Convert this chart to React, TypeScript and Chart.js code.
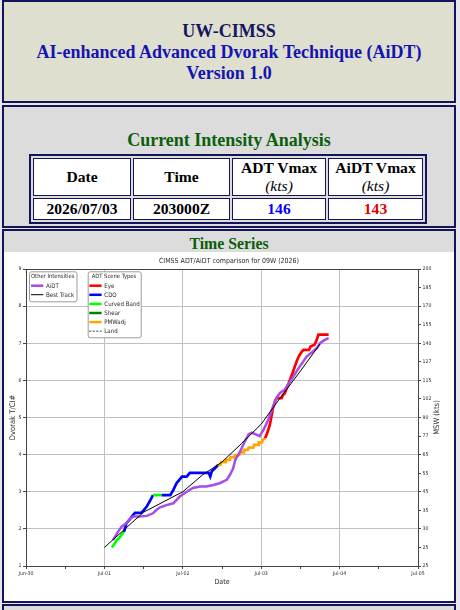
import React, { useEffect, useRef } from "react";
import { Chart, registerables } from "chart.js";

Chart.register(...registerables);

// ---------- data ----------
const chartTitle = "CIMSS ADT/AiDT comparison for 09W (2026)";
const xTickLabels = ["Jun-30", "Jul-01", "Jul-02", "Jul-03", "Jul-04", "Jul-05"];
const mswTickLabels = ["25", "25", "30", "35", "45", "55", "65", "77", "90", "102", "115", "127", "140", "155", "170", "185", "200"];

const otherLegendLabels = ["AiDT", "Best Track"];
const sceneLegendLabels = ["Eye", "CDO", "Curved Band", "Shear", "PMWadj", "Land"];

// days since Jun-30 00Z
const bestTrackDays = [1.0, 1.5, 2.0, 2.25, 2.5, 2.75, 3.0, 3.25, 3.5, 3.75];
const bestTrackCI = [1.5, 2.45, 3.0, 3.45, 3.8, 4.3, 4.82, 5.55, 6.25, 6.98];

const aidtDays = [1.11, 1.16, 1.22, 1.28, 1.33, 1.37, 1.45, 1.54, 1.62, 1.67, 1.71, 1.79, 1.88, 1.96, 2.05, 2.13, 2.22, 2.3, 2.39, 2.47, 2.56, 2.6, 2.64, 2.67, 2.73, 2.76, 2.79, 2.84, 2.88, 2.94, 2.98, 3.03, 3.09, 3.15, 3.2, 3.24, 3.3, 3.33, 3.41, 3.49, 3.58, 3.66, 3.71, 3.75, 3.81, 3.86];
const aidtCI = [1.7, 1.88, 2.06, 2.15, 2.28, 2.33, 2.33, 2.35, 2.42, 2.52, 2.58, 2.64, 2.69, 2.87, 3.0, 3.1, 3.14, 3.14, 3.18, 3.23, 3.32, 3.45, 3.62, 3.86, 4.08, 4.22, 4.35, 4.55, 4.59, 4.54, 4.5, 4.67, 4.94, 5.29, 5.55, 5.66, 5.75, 5.85, 6.1, 6.37, 6.64, 6.78, 6.87, 7.0, 7.09, 7.14];

const adtDays = [
  1.095, 1.13, 1.16, 1.19, 1.22, 1.25,
  1.28, 1.31, 1.35, 1.39, 1.47, 1.5, 1.54, 1.58, 1.62,
  1.73,
  1.84, 1.88, 1.92, 1.99, 2.05, 2.09, 2.33, 2.35, 2.37, 2.41, 2.45,
  2.48, 2.49, 2.54, 2.55, 2.6, 2.61, 2.66, 2.67, 2.72, 2.73, 2.77, 2.78, 2.83, 2.84, 2.9, 2.91, 2.96, 2.97, 3.01, 3.02, 3.05,
  3.08, 3.11, 3.15, 3.18, 3.2, 3.26, 3.28, 3.3, 3.35, 3.4, 3.45, 3.48, 3.52, 3.54, 3.61, 3.63, 3.68, 3.7, 3.73, 3.86,
];
const adtCI = [
  1.5, 1.6, 1.7, 1.75, 1.85, 1.92,
  2.15, 2.22, 2.33, 2.43, 2.43, 2.5, 2.6, 2.75, 2.91,
  2.91,
  2.91, 3.05, 3.23, 3.41, 3.41, 3.51, 3.51, 3.41, 3.55, 3.63, 3.72,
  3.72, 3.8, 3.8, 3.86, 3.86, 3.93, 3.93, 3.99, 3.99, 4.06, 4.06, 4.13, 4.13, 4.19, 4.19, 4.26, 4.26, 4.33, 4.33, 4.4, 4.44,
  4.6, 4.8, 5.25, 5.47, 5.52, 5.52, 5.61, 5.65, 5.92, 6.2, 6.5, 6.65, 6.78, 6.82, 6.82, 6.91, 6.96, 7.05, 7.23, 7.23,
];
const adtScene = [
  "Curved Band", "Curved Band", "Curved Band", "Curved Band", "Curved Band", "Curved Band",
  "CDO", "CDO", "CDO", "CDO", "CDO", "CDO", "CDO", "CDO", "CDO",
  "Curved Band",
  "CDO", "CDO", "CDO", "CDO", "CDO", "CDO", "CDO", "CDO", "CDO", "CDO", "CDO",
  "PMWadj", "PMWadj", "PMWadj", "PMWadj", "PMWadj", "PMWadj", "PMWadj", "PMWadj", "PMWadj", "PMWadj", "PMWadj", "PMWadj", "PMWadj", "PMWadj", "PMWadj", "PMWadj", "PMWadj", "PMWadj", "PMWadj", "PMWadj", "PMWadj",
  "Eye", "Eye", "Eye", "Eye", "Eye", "Eye", "Eye", "Eye", "Eye", "Eye", "Eye", "Eye", "Eye", "Eye", "Eye", "Eye", "Eye", "Eye", "Eye", "Eye",
];

// ---------- styles ----------
const sceneColors: Record<string, string> = {
  Eye: "#ff0000",
  CDO: "#0000ff",
  "Curved Band": "#00ff00",
  Shear: "#008000",
  PMWadj: "#ffa500",
  Land: "#000000",
};
const aidtColor = "#a64ce8";
const bestColor = "#000000";
const gridGrey = "#c0c0c0";
const axisGrey = "#444444";
const textGrey = "#2a2a2a";
const chartFont = '"DejaVu Sans Condensed", "DejaVu Sans", sans-serif';
const serif = '"Liberation Serif", "Times New Roman", serif';
const navy = "#14145a";

const decorations = {
  id: "decorations",
  afterDraw(chart: any) {
    const { ctx, chartArea } = chart;
    const { left, top, right, bottom } = chartArea;
    ctx.save();
    // top spine
    ctx.strokeStyle = axisGrey;
    ctx.lineWidth = 1;
    ctx.beginPath();
    ctx.moveTo(left, Math.round(top) + 0.5);
    ctx.lineTo(right, Math.round(top) + 0.5);
    ctx.stroke();

    // right axis title, read bottom-to-top
    ctx.fillStyle = textGrey;
    ctx.font = `7.6px ${chartFont}`;
    ctx.textAlign = "center";
    ctx.textBaseline = "middle";
    ctx.translate(right + 18.7, (top + bottom) / 2);
    ctx.rotate(-Math.PI / 2);
    ctx.fillText("MSW (kts)", 0, 0);
    ctx.restore();

    // legends
    const drawBox = (x: number, y: number, w: number, h: number) => {
      ctx.save();
      ctx.fillStyle = "rgba(255,255,255,0.85)";
      ctx.strokeStyle = "#9a9a9a";
      ctx.lineWidth = 1;
      ctx.beginPath();
      if ((ctx as any).roundRect) (ctx as any).roundRect(x + 0.5, y + 0.5, w, h, 2);
      else ctx.rect(x + 0.5, y + 0.5, w, h);
      ctx.fill();
      ctx.stroke();
      ctx.restore();
    };
    const drawEntry = (x: number, y: number, color: string, width: number, dash: number[], label: string) => {
      ctx.save();
      ctx.strokeStyle = color;
      ctx.lineWidth = width;
      ctx.setLineDash(dash);
      ctx.beginPath();
      ctx.moveTo(x, y);
      ctx.lineTo(x + 12.3, y);
      ctx.stroke();
      ctx.setLineDash([]);
      ctx.fillStyle = textGrey;
      ctx.font = `6.1px ${chartFont}`;
      ctx.textAlign = "left";
      ctx.textBaseline = "middle";
      ctx.fillText(label, x + 15, y + 0.3);
      ctx.restore();
    };

    // legend 1: other intensities
    const l1x = left + 3;
    const l1y = top + 2.3;
    drawBox(l1x, l1y, 47.5, 30);
    ctx.save();
    ctx.fillStyle = textGrey;
    ctx.font = `5.8px ${chartFont}`;
    ctx.textBaseline = "middle";
    ctx.textAlign = "left";
    ctx.fillText("Other Intensities", l1x + 2, l1y + 5.2);
    ctx.restore();
    const otherStyles = [
      { c: aidtColor, w: 2.5, d: [] as number[] },
      { c: bestColor, w: 1, d: [] as number[] },
    ];
    otherLegendLabels.forEach((lab, i) => {
      drawEntry(l1x + 2, l1y + 14.4 + i * 9, otherStyles[i].c, otherStyles[i].w, otherStyles[i].d, lab);
    });

    // legend 2: ADT scene types
    const l2x = left + 61.7;
    const l2y = top + 2.3;
    drawBox(l2x, l2y, 53, 66);
    ctx.save();
    ctx.fillStyle = textGrey;
    ctx.font = `5.8px ${chartFont}`;
    ctx.textBaseline = "middle";
    ctx.textAlign = "left";
    ctx.fillText("ADT Scene Types", l2x + 4, l2y + 5);
    ctx.restore();
    sceneLegendLabels.forEach((lab, i) => {
      const isLand = lab === "Land";
      drawEntry(l2x + 1.6, l2y + 14.4 + i * 9.1, sceneColors[lab], isLand ? 0.8 : 2.5, isLand ? [2, 1.5] : [], lab);
    });
  },
};

export default function App() {
  const canvasRef = useRef<HTMLCanvasElement>(null);

  useEffect(() => {
    const canvas = canvasRef.current;
    if (!canvas) return;
    const bestData = bestTrackDays.map((d, i) => ({ x: d, y: bestTrackCI[i] }));
    const aidtData = aidtDays.map((d, i) => ({ x: d, y: aidtCI[i] }));
    const adtData = adtDays.map((d, i) => ({ x: d, y: adtCI[i] }));

    const chart = new Chart(canvas, {
      type: "line",
      data: {
        datasets: [
          {
            label: "Best Track",
            data: bestData,
            borderColor: bestColor,
            borderWidth: 1,
            pointRadius: 0,
            tension: 0,
          },
          {
            label: "AiDT",
            data: aidtData,
            borderColor: aidtColor,
            borderWidth: 2.5,
            pointRadius: 0,
            tension: 0,
          },
          {
            label: "ADT",
            data: adtData,
            borderColor: sceneColors.CDO,
            borderWidth: 2.7,
            pointRadius: 0,
            tension: 0,
            borderJoinStyle: "miter",
            segment: {
              borderColor: (c: any) => sceneColors[adtScene[c.p1DataIndex]],
            },
          } as any,
        ],
      },
      options: {
        responsive: false,
        animation: false,
        layout: { padding: 0 },
        plugins: {
          legend: { display: false },
          tooltip: { enabled: false },
          title: {
            display: true,
            text: chartTitle,
            color: textGrey,
            font: { family: chartFont, size: 7, weight: "normal" },
            padding: { top: 4.6, bottom: 4 },
          },
        },
        scales: {
          x: {
            type: "linear",
            min: 0,
            max: 5,
            ticks: {
              stepSize: 0.5,
              autoSkip: false,
              maxRotation: 0,
              padding: 1.5,
              color: textGrey,
              font: { family: chartFont, size: 5.2 },
              callback: (v: any) => (Number.isInteger(v) ? xTickLabels[v] : ""),
            },
            grid: {
              color: (c: any) => (c.tick && Number.isInteger(c.tick.value) ? gridGrey : "rgba(0,0,0,0)"),
              tickColor: axisGrey,
              tickLength: 3,
              lineWidth: 1,
            },
            border: { display: true, color: axisGrey },
            title: {
              display: true,
              text: "Date",
              color: textGrey,
              font: { family: chartFont, size: 7 },
              padding: { top: 0, bottom: 14.8 },
            },
            afterFit: (s: any) => {
              s.height = 35;
            },
          },
          y: {
            type: "linear",
            position: "left",
            min: 1,
            max: 9,
            ticks: {
              stepSize: 1,
              padding: 1.5,
              color: textGrey,
              font: { family: chartFont, size: 5.2 },
            },
            grid: {
              color: gridGrey,
              tickColor: axisGrey,
              tickLength: 3,
              lineWidth: 1,
            },
            border: { display: true, color: axisGrey },
            title: {
              display: true,
              text: "Dvorak T/CI#",
              color: textGrey,
              font: { family: chartFont, size: 7.6 },
              padding: { top: 4.7, bottom: 0 },
            },
            afterFit: (s: any) => {
              s.width = 22;
            },
          },
          y2: {
            type: "linear",
            position: "right",
            min: 1,
            max: 9,
            ticks: {
              stepSize: 0.5,
              padding: 1.5,
              color: textGrey,
              font: { family: chartFont, size: 5.2 },
              callback: (v: any) => mswTickLabels[Math.round((Number(v) - 1) * 2)],
            },
            grid: {
              drawOnChartArea: false,
              tickColor: axisGrey,
              tickLength: 3,
            },
            border: { display: true, color: axisGrey },
            afterFit: (s: any) => {
              s.width = 36;
            },
          },
        },
      } as any,
      plugins: [decorations],
    });
    return () => chart.destroy();
  }, []);

  const boxBase: React.CSSProperties = {
    position: "absolute",
    left: 2,
    width: 450,
    border: `2px solid ${navy}`,
    boxSizing: "content-box",
  };
  const cell: React.CSSProperties = {
    border: `1px solid ${navy}`,
    background: "#ffffff",
    textAlign: "center",
    padding: 0,
    fontWeight: "bold",
    color: "#000",
  };

  return (
    <div
      style={{
        position: "absolute",
        left: 0,
        top: 0,
        width: 460,
        height: 610,
        overflow: "hidden",
        background: "#e6e6ec",
        fontFamily: serif,
      }}
    >
      {/* header box */}
      <div style={{ ...boxBase, top: 0, height: 99, background: "#dfdfcf" }}>
        <div
          style={{
            position: "absolute",
            left: 0,
            right: 0,
            top: 18.5,
            textAlign: "center",
            fontWeight: "bold",
            fontSize: 18,
            lineHeight: "21px",
          }}
        >
          <div style={{ color: "#16165e" }}>UW-CIMSS</div>
          <div style={{ color: "#1414b0" }}>AI-enhanced Advanced Dvorak Technique (AiDT)</div>
          <div style={{ color: "#1414b0" }}>Version 1.0</div>
        </div>
      </div>

      {/* current intensity box */}
      <div style={{ ...boxBase, top: 105, height: 119, background: "#dcdcdc" }}>
        <div
          style={{
            position: "absolute",
            left: 0,
            right: 0,
            top: 22.5,
            textAlign: "center",
            fontWeight: "bold",
            fontSize: 18,
            lineHeight: "21px",
            color: "#0b5e0b",
          }}
        >
          Current Intensity Analysis
        </div>
        <table
          style={{
            position: "absolute",
            left: 25,
            top: 47,
            borderCollapse: "separate",
            borderSpacing: 2,
            border: `2px solid ${navy}`,
            fontSize: 15.6,
            fontFamily: serif,
          }}
        >
          <tbody>
            <tr style={{ height: 38 }}>
              <td style={{ ...cell, width: 96, lineHeight: "18px" }}>Date</td>
              <td style={{ ...cell, width: 95, lineHeight: "18px" }}>Time</td>
              <td style={{ ...cell, width: 92, lineHeight: "18px" }}>
                ADT Vmax
                <br />
                <span style={{ fontWeight: "normal", fontStyle: "italic" }}>(kts)</span>
              </td>
              <td style={{ ...cell, width: 93, lineHeight: "18px" }}>
                AiDT Vmax
                <br />
                <span style={{ fontWeight: "normal", fontStyle: "italic" }}>(kts)</span>
              </td>
            </tr>
            <tr style={{ height: 22 }}>
              <td style={{ ...cell, lineHeight: "20px" }}>2026/07/03</td>
              <td style={{ ...cell, lineHeight: "20px" }}>203000Z</td>
              <td style={{ ...cell, lineHeight: "20px", color: "#0000ff" }}>146</td>
              <td style={{ ...cell, lineHeight: "20px", color: "#e00000" }}>143</td>
            </tr>
          </tbody>
        </table>
      </div>

      {/* time series box */}
      <div style={{ ...boxBase, top: 229, height: 370, background: "#ffffff" }}>
        <div style={{ position: "absolute", left: 0, top: 0, width: 450, height: 21, background: "#dcdcdc" }}>
          <div
            style={{
              position: "absolute",
              left: 0,
              right: 0,
              top: 1.8,
              textAlign: "center",
              fontWeight: "bold",
              fontSize: 15.8,
              lineHeight: "21px",
              color: "#0b5e0b",
            }}
          >
            Time Series
          </div>
        </div>
        <div style={{ position: "absolute", left: 0, top: 21, width: 450, height: 349 }}>
          <canvas ref={canvasRef} width={450} height={349} style={{ display: "block", width: 450, height: 349 }} />
        </div>
      </div>

      {/* next box (cut off) */}
      <div style={{ ...boxBase, top: 604, height: 30, background: "#dcdcdc" }} />
    </div>
  );
}
